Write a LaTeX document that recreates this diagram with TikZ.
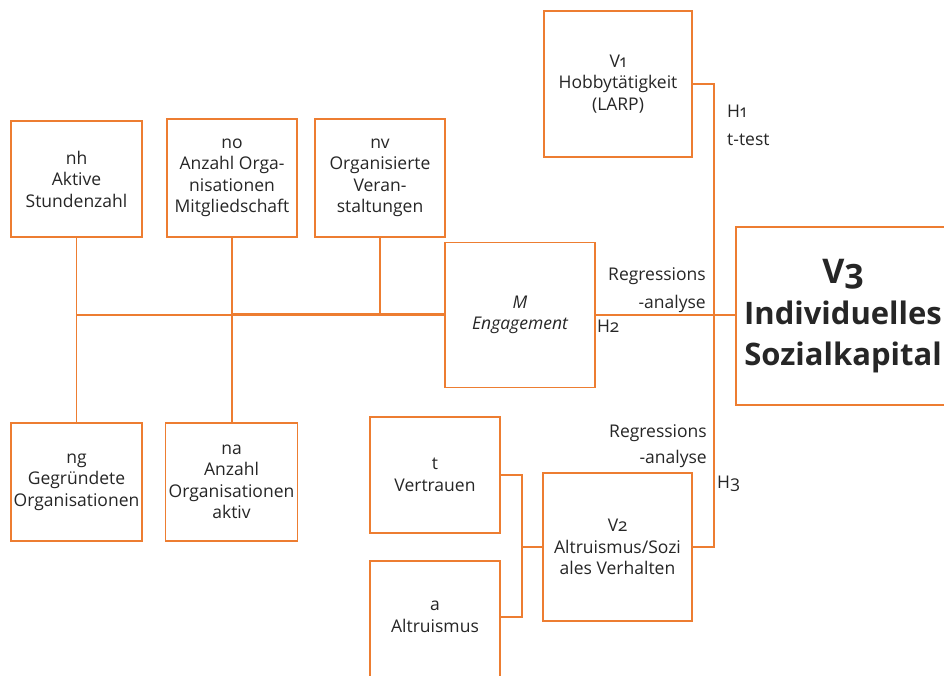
\documentclass[tikz,border=0pt]{standalone}
\usepackage{fontspec}
\setmainfont{Open Sans}[Numbers=OldStyle]
\definecolor{boxorange}{HTML}{ED7D31}
\definecolor{txt}{HTML}{262626}
\tikzset{
  box/.style={draw=boxorange, line width=1.8pt, fill=white, inner sep=0pt,
    align=center, text=txt, font=\fontsize{17.5}{21.5}\selectfont},
  conn/.style={draw=boxorange, line width=1.8pt},
  lbl/.style={inner sep=0pt, text=txt, font=\fontsize{17.5}{21.5}\selectfont},
}
\begin{document}
\begin{tikzpicture}[x=1pt,y=-1pt]
\useasboundingbox (0,0) rectangle (944,675);
\clip (0,0) rectangle (944,675);
\fill[white] (0,0) rectangle (944,675);

% boxes
\node[box, minimum width=148, minimum height=146] (V1) at (618,84) {V1\\Hobbytätigkeit\\(LARP)};
\node[box, minimum width=131, minimum height=116] (nh) at (76.5,179) {nh\\Aktive\\Stundenzahl};
\node[box, minimum width=130, minimum height=118] (no) at (232,178) {no\\Anzahl Orga-\\nisationen\\Mitgliedschaft};
\node[box, minimum width=130, minimum height=118] (nv) at (380,178) {nv\\Organisierte\\Veran-\\staltungen};
\node[box, minimum width=150, minimum height=145] (M) at (520,315) {\itshape M\\\itshape Engagement};
\node[box, minimum width=214, minimum height=178, font=\fontsize{31}{41}\selectfont\bfseries] (V3) at (843,316)
  {{\fontsize{34}{41}\selectfont V3}\\Individuelles\\Sozialkapital};
\node[box, minimum width=131, minimum height=118] (ng) at (76.5,482) {ng\\Gegründete\\Organisationen};
\node[box, minimum width=132, minimum height=118] (na) at (231.5,482) {na\\Anzahl\\Organisationen\\aktiv};
\node[box, minimum width=130, minimum height=116] (t) at (435,475) {t\\Vertrauen};
\node[box, minimum width=149, minimum height=148] (V2) at (617.5,547) {V2\\Altruismus/Sozi\\ales Verhalten};
\node[box, minimum width=130, minimum height=124] (a) at (435,623) {};
\node[lbl, align=center] (atext) at (435,617) {a\\Altruismus};

% bus coordinates
\coordinate (b1) at (714,0);
\coordinate (b2) at (522,0);

% connectors
\draw[conn] (V1.east) -| (b1 |- V2.east) -- (V2.east);
\draw[conn] (M.east) -- (M.east -| V3.west);
\draw[conn] (nh.south) -- (nh.south |- ng.north);
\draw[conn] (nh.south |- M.west) -- (M.west);
\draw[conn] (no.south) -- (no.south |- na.north);
\draw[conn] ([yshift=1pt]no.south |- M.west) -- ([yshift=1pt]M.west);
\draw[conn] (nv.south) -- (nv.south |- M.west);
\draw[conn] (t.east) -| (b2 |- atext.east) -- (atext.east -| a.east);
\draw[conn] (b2 |- V2.west) -- (V2.west);

% labels
\node[lbl, anchor=base west] (h1) at (727,117) {H1};
\node[lbl, anchor=base west] (tt) at (727,145) {t-test};
\node[lbl, anchor=base east] (r1) at (706,280) {Regressions};
\node[lbl, anchor=base east] (r1b) at (706,308) {-analyse};
\node[lbl, anchor=base west] (h2) at (597,332) {H2};
\node[lbl, anchor=base east] (r2) at (707,437) {Regressions};
\node[lbl, anchor=base east] (r2b) at (707,463) {-analyse};
\node[lbl, anchor=base west] (h3) at (717,488) {H3};
\end{tikzpicture}
\end{document}
